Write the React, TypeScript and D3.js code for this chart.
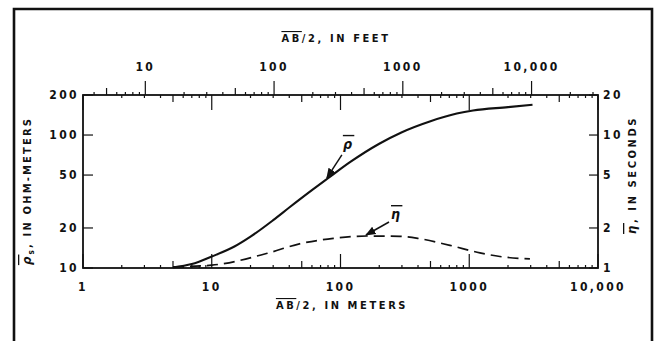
import * as d3 from "d3";

// spacing AB/2 in meters, apparent resistivity in ohm-meters (solid curve)
const RHO_M = [5, 7, 10, 15, 20, 30, 40, 60, 80, 120, 200, 300, 500, 800, 1070, 2000, 3100];
const RHO = [10.1, 10.7, 12.2, 14.5, 17.2, 22.9, 28.5, 38.5, 47.3, 63, 86, 105, 127, 145, 153, 162, 169];

// apparent chargeability in seconds (dashed curve)
const ETA_M = [5, 10, 27, 48, 88, 160, 290, 414, 708, 1210, 1730, 2960];
const ETA = [1.02, 1.05, 1.29, 1.52, 1.67, 1.74, 1.73, 1.66, 1.48, 1.3, 1.22, 1.17];

const METER_LABELS = [1, 10, 100, 1000, 10000];
const FEET_LABELS = [10, 100, 1000, 10000];
const RHO_TICKS = [10, 20, 50, 100, 200];
const ETA_TICKS = [1, 2, 5, 10, 20];

const W = 655;
const H = 341;
const m = { left: 83, right: 598, top: 95, bottom: 268 };
const FT = 0.3048;

const font = "'DejaVu Sans Condensed', 'DejaVu Sans', sans-serif";
const lab = { fontFamily: font, fontWeight: 700, fontSize: 12, letterSpacing: 2.4, fill: "#111" } as const;
const title = { ...lab, fontSize: 11, letterSpacing: 2.6 } as const;

function kind(v: number) {
  const l = Math.log10(v);
  if (Math.abs(l - Math.round(l)) < 1e-6) return "major";
  const lead = Math.round(v / Math.pow(10, Math.floor(l)));
  return lead === 5 ? "mid" : "minor";
}

// "1000" stays plain, "10,000" gets its comma
const fmt = (v: number) => (v >= 10000 ? d3.format(",")(v) : String(v));

export default function App() {
  const x = d3.scaleLog().domain([1, 10000]).range([m.left, m.right]);
  const xFt = d3.scaleLog().domain([1 / FT, 10000 / FT]).range([m.left, m.right]);
  const yRho = d3.scaleLog().domain([10, 200]).range([m.bottom, m.top]);
  const yEta = d3.scaleLog().domain([1, 20]).range([m.bottom, m.top]);

  const rhoLine = d3.line<number>()
    .x((_, i) => x(RHO_M[i]))
    .y(d => yRho(d))
    .curve(d3.curveMonotoneX);
  const etaLine = d3.line<number>()
    .x((_, i) => x(ETA_M[i]))
    .y(d => yEta(d))
    .curve(d3.curveMonotoneX);

  const len = { major: 14, mid: 7, minor: 3 };

  // arrow targets on the curves
  const rhoTip = [x(77), yRho(46)];
  const etaTip = [x(155), yEta(1.74)];

  return (
    <svg width={W} height={H} style={{ position: "absolute", left: 0, top: 0, background: "#fff" }}>
      <defs>
        <marker id="ah" viewBox="0 0 10 10" refX="9" refY="5" markerWidth="7" markerHeight="7" orient="auto">
          <path d="M0,1 L10,5 L0,9 Z" fill="#111" />
        </marker>
      </defs>

      {/* frame, open at the bottom */}
      <path d={`M14,${H} V9 H652 V${H}`} fill="none" stroke="#111" strokeWidth={2.6} />

      {/* plot box */}
      <rect x={m.left} y={m.top} width={m.right - m.left} height={m.bottom - m.top}
        fill="none" stroke="#111" strokeWidth={1.8} />

      {/* bottom axis, meters, ticks inward */}
      {x.ticks().map(v => (
        <line key={"b" + v} x1={x(v)} x2={x(v)} y1={m.bottom} y2={m.bottom - len[kind(v)]}
          stroke="#111" strokeWidth={1.2} />
      ))}
      {METER_LABELS.map(v => (
        <text key={"bl" + v} x={x(v)} y={m.bottom + 23} textAnchor="middle" {...lab}>{fmt(v)}</text>
      ))}

      {/* top axis: feet ticks outward, meter ticks inward */}
      {xFt.ticks().filter(v => xFt(v) <= m.right + 0.5).map(v => (
        <line key={"tf" + v} x1={xFt(v)} x2={xFt(v)} y1={m.top} y2={m.top - len[kind(v)]}
          stroke="#111" strokeWidth={1.2} />
      ))}
      {x.ticks().map(v => (
        <line key={"tm" + v} x1={x(v)} x2={x(v)} y1={m.top} y2={m.top + (kind(v) === "major" ? 15 : len[kind(v)])}
          stroke="#111" strokeWidth={1.2} />
      ))}
      {FEET_LABELS.map(v => (
        <text key={"tl" + v} x={xFt(v)} y={m.top - 24} textAnchor="middle" {...lab}>{fmt(v)}</text>
      ))}

      {/* left axis */}
      {RHO_TICKS.map(v => (
        <g key={"l" + v}>
          <line x1={m.left} x2={m.left + 10} y1={yRho(v)} y2={yRho(v)} stroke="#111" strokeWidth={1.2} />
          <text x={m.left - 4} y={yRho(v)} dy="0.36em" textAnchor="end" {...lab}>{v}</text>
        </g>
      ))}

      {/* right axis */}
      {ETA_TICKS.map(v => (
        <g key={"r" + v}>
          <line x1={m.right} x2={m.right - 9} y1={yEta(v)} y2={yEta(v)} stroke="#111" strokeWidth={1.2} />
          <text x={m.right + 5} y={yEta(v)} dy="0.36em" textAnchor="start" {...lab}>{v}</text>
        </g>
      ))}

      {/* curves */}
      <path d={rhoLine(RHO) ?? ""} fill="none" stroke="#111" strokeWidth={2.1} />
      <path d={etaLine(ETA) ?? ""} fill="none" stroke="#111" strokeWidth={1.7} strokeDasharray="11,6" />

      {/* curve labels */}
      <line x1={rhoTip[0] + 16} y1={rhoTip[1] - 25} x2={rhoTip[0] + 1} y2={rhoTip[1] - 2}
        stroke="#111" strokeWidth={1.5} markerEnd="url(#ah)" />
      <text x={rhoTip[0] + 17} y={rhoTip[1] - 31} {...lab} fontSize={14} fontStyle="italic">
        <tspan style={{ textDecoration: "overline" }}>ρ</tspan>
      </text>
      <line x1={etaTip[0] + 24} y1={etaTip[1] - 14} x2={etaTip[0] + 1} y2={etaTip[1] - 1}
        stroke="#111" strokeWidth={1.5} markerEnd="url(#ah)" />
      <text x={etaTip[0] + 26} y={etaTip[1] - 17} {...lab} fontSize={14} fontStyle="italic">
        <tspan style={{ textDecoration: "overline" }}>η</tspan>
      </text>

      {/* axis titles */}
      <text x={336} y={42} textAnchor="middle" {...title}>
        <tspan style={{ textDecoration: "overline" }}>AB</tspan>/2, IN FEET
      </text>
      <text x={342} y={309} textAnchor="middle" {...title}>
        <tspan style={{ textDecoration: "overline" }}>AB</tspan>/2, IN METERS
      </text>
      <text transform="translate(31,191) rotate(-90)" textAnchor="middle" {...title} letterSpacing={2.2}>
        <tspan fontSize={13} fontStyle="italic" style={{ textDecoration: "overline" }}>ρ</tspan>
        <tspan fontSize={8} dy={3}>s</tspan>
        <tspan dy={-3}>, IN OHM-METERS</tspan>
      </text>
      <text transform="translate(636,175) rotate(-90)" textAnchor="middle" {...title} letterSpacing={2.6}>
        <tspan fontSize={13} fontStyle="italic" style={{ textDecoration: "overline" }}>η</tspan>, IN SECONDS
      </text>
    </svg>
  );
}
